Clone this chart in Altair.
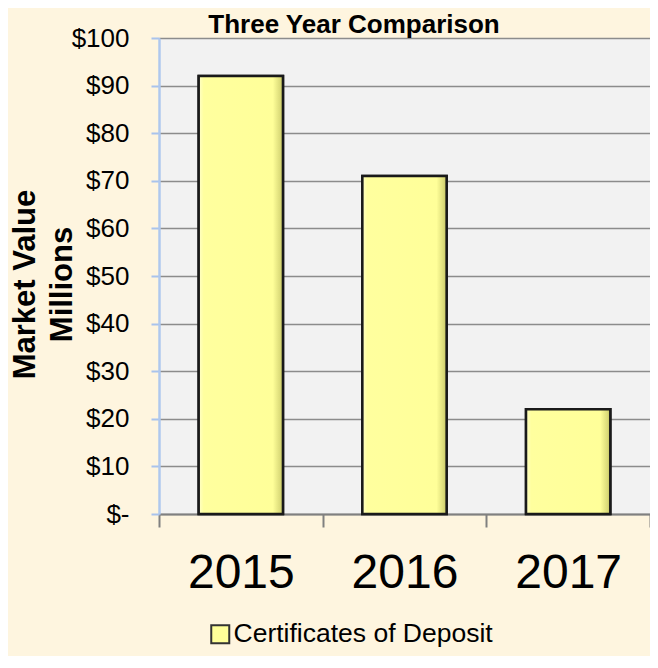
import altair as alt
import pandas as pd

# ---- data ----
years = ["2015", "2016", "2017"]
values = [92, 71, 22]
series = ["Certificates of Deposit", "Certificates of Deposit", "Certificates of Deposit"]
y_ticks = [0, 10, 20, 30, 40, 50, 60, 70, 80, 90, 100]
title_text = "Three Year Comparison"

df = pd.DataFrame({"year": years, "value": values, "series": series})
title_df = pd.DataFrame({"t": [title_text]})

FONT = "Liberation Sans"
PAD_L = 151
PAD_T = 30
TOTAL_W = 642
TOTAL_H = 648
PLOT_W = TOTAL_W - PAD_L
PLOT_H = 476

x_enc = alt.X(
    "year:N",
    sort=years,
    title=None,
    scale=alt.Scale(paddingInner=0, paddingOuter=0),
    axis=alt.Axis(
        labelAngle=0,
        labelFont=FONT,
        labelFontSize=48,
        labelColor="black",
        labelPadding=22,
        tickSize=13,
        tickColor="#808080",
        tickWidth=2,
        tickBand="extent",
        domainColor="#808080",
        domainWidth=2,
        grid=False,
    ),
)

y_enc = alt.Y(
    "value:Q",
    scale=alt.Scale(domain=[0, 100], nice=False, zero=True),
    title=["Market Value", "Millions"],
    axis=alt.Axis(
        values=y_ticks,
        labelExpr="datum.value == 0 ? '$-' : '$' + datum.value",
        labelFont=FONT,
        labelFontSize=26,
        labelColor="black",
        labelPadding=22,
        tickSize=8,
        tickColor="#A9C3EC",
        tickWidth=2,
        domainColor="#AFC8EE",
        domainWidth=2.5,
        grid=True,
        gridColor="#8C8C8C",
        gridWidth=1.6,
        titleFont=FONT,
        titleFontSize=31,
        titleFontWeight="bold",
        titleColor="black",
        titleAngle=-90,
        titleAlign="center",
        titleBaseline="middle",
        titleLineHeight=37,
        titleX=-134,
        titleY=246,
    ),
)

base_bars = alt.Chart(df).mark_bar(
    stroke="#1a1a1a", strokeWidth=2.5, width=alt.RelativeBandSize(0.515)
).encode(
    x=x_enc,
    y=y_enc,
    color=alt.Color(
        "series:N",
        scale=alt.Scale(domain=["Certificates of Deposit"], range=["#FFFF99"]),
        legend=alt.Legend(
            title=None,
            orient="none",
            legendX=48,
            legendY=583,
            symbolType="square",
            symbolSize=324,
            symbolStrokeColor="#333333",
            symbolStrokeWidth=2,
            symbolOpacity=1,
            labelFont=FONT,
            labelFontSize=26.5,
            labelColor="black",
            labelLimit=0,
            labelOffset=0,
        ),
    ),
)

shade_bars = alt.Chart(df).mark_bar(
    stroke="#1a1a1a",
    strokeWidth=2.5,
    width=alt.RelativeBandSize(0.515),
    color=alt.LinearGradient(
        gradient="linear",
        stops=[
            alt.GradientStop(color="#FFFFC8", offset=0),
            alt.GradientStop(color="#FFFF9E", offset=0.06),
            alt.GradientStop(color="#FFFF99", offset=0.88),
            alt.GradientStop(color="#D9D977", offset=0.97),
            alt.GradientStop(color="#BDBD5C", offset=1),
        ],
        x1=0, x2=1, y1=0, y2=0,
    ),
).encode(
    x=alt.X("year:N", sort=years),
    y=alt.Y("value:Q"),
)

title_mark = alt.Chart(title_df).mark_text(
    font=FONT,
    fontSize=26,
    fontWeight="bold",
    color="black",
    align="center",
    baseline="alphabetic",
).encode(
    text="t:N",
    x=alt.value(195),
    y=alt.value(-5),
)

chart = alt.layer(base_bars, shade_bars, title_mark).properties(
    width=PLOT_W,
    height=PLOT_H,
    autosize=alt.AutoSizeParams(type="none"),
    padding={"left": PAD_L, "top": PAD_T, "right": 0, "bottom": TOTAL_H - PAD_T - PLOT_H},
    background="#FEF5DF",
).configure_view(
    fill="#F2F2F2",
    stroke="transparent",
)

chart.save("out.html", embed_options={"renderer": "svg", "actions": False})
